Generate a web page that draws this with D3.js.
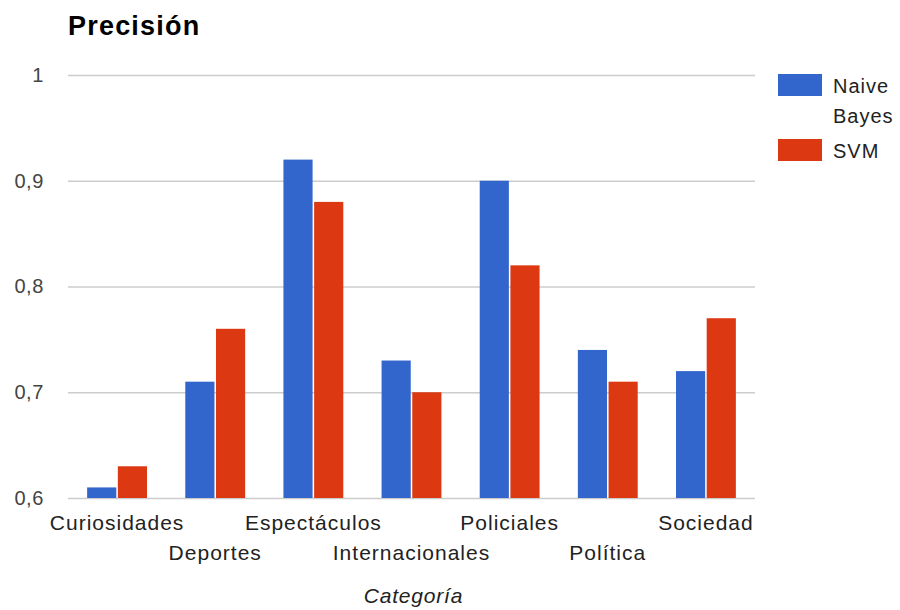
<!DOCTYPE html>
<html>
<head>
<meta charset="utf-8">
<script src="https://cdn.jsdelivr.net/npm/d3@7"></script>
<style>
  html, body { margin: 0; padding: 0; background: #fff; }
  svg { display: block; font-family: Arial, "Liberation Sans", sans-serif; }
</style>
</head>
<body>
<svg id="chart" width="900" height="610"></svg>
<script>
// Precision per news category for two classifiers
const categories = ["Curiosidades", "Deportes", "Espectáculos", "Internacionales", "Policiales", "Política", "Sociedad"];
const seriesNames = ["Naive Bayes", "SVM"];
const naiveBayes = [0.61, 0.71, 0.92, 0.73, 0.90, 0.74, 0.72];
const svm = [0.63, 0.76, 0.88, 0.70, 0.82, 0.71, 0.77];
const yTicks = [0.6, 0.7, 0.8, 0.9, 1.0];
const colors = ["#3366cc", "#dc3912"];

const values = [naiveBayes, svm];
const rows = categories.map((c, i) => ({ category: c, vals: seriesNames.map((s, k) => ({ series: s, k, value: values[k][i] })) }));

const svg = d3.select("#chart");
const plot = { left: 68, right: 755, top: 75, bottom: 498 };

const x0 = d3.scaleBand().domain(categories).range([plot.left, plot.right]).paddingInner(0.39).paddingOuter(0.195);
const x1 = d3.scaleBand().domain(seriesNames).range([0, x0.bandwidth()]).paddingInner(0.05);
const y = d3.scaleLinear().domain([0.6, 1.0]).range([plot.bottom, plot.top]);

const fmt = v => (v === 1 ? "1" : d3.format(".1f")(v).replace(".", ","));

// Gridlines and tick labels
const yAxis = d3.axisLeft(y).tickValues(yTicks).tickSize(-(plot.right - plot.left)).tickFormat(fmt).tickPadding(24);
const gy = svg.append("g").attr("transform", `translate(${plot.left},0)`).call(yAxis);
gy.select(".domain").remove();
gy.selectAll(".tick line").attr("stroke", "#cccccc").attr("stroke-width", 1.3);
gy.selectAll(".tick text").attr("fill", "#444").style("font-size", "20px").attr("letter-spacing", "0.6px");

// Bars
const groups = svg.append("g").selectAll("g").data(rows).join("g")
  .attr("transform", d => `translate(${x0(d.category)},0)`);
groups.selectAll("rect").data(d => d.vals).join("rect")
  .attr("x", d => x1(d.series))
  .attr("width", x1.bandwidth())
  .attr("y", d => y(d.value))
  .attr("height", d => y(0.6) - y(d.value))
  .attr("fill", d => colors[d.k]);

// Category labels, alternating on two rows
const xAxis = d3.axisBottom(x0).tickSize(0).tickPadding(0);
const gx = svg.append("g").attr("transform", `translate(0,${plot.bottom})`).call(xAxis);
gx.select(".domain").remove();
gx.selectAll(".tick text")
  .attr("fill", "#222")
  .style("font-size", "21px")
  .attr("letter-spacing", "1px")
  .attr("dy", null)
  .attr("y", (d, i) => (i % 2 === 0 ? 32 : 62));

// Axis title
svg.append("text")
  .attr("x", (plot.left + plot.right) / 2 + 2)
  .attr("y", 603)
  .attr("text-anchor", "middle")
  .attr("fill", "#222")
  .style("font-size", "21px")
  .style("font-style", "italic")
  .attr("letter-spacing", "0.8px")
  .text("Categoría");

// Chart title
svg.append("text")
  .attr("x", 68)
  .attr("y", 35)
  .attr("fill", "#000")
  .style("font-size", "27px")
  .style("font-weight", "bold")
  .attr("letter-spacing", "1.2px")
  .text("Precisión");

// Legend
const legendLines = [["Naive", "Bayes"], ["SVM"]];
const legendY = [74, 139];
const legend = svg.append("g");
seriesNames.forEach((s, k) => {
  legend.append("rect")
    .attr("x", 778).attr("y", legendY[k])
    .attr("width", 44).attr("height", 22)
    .attr("fill", colors[k]);
  const t = legend.append("text")
    .attr("x", 833).attr("y", legendY[k] + 19)
    .attr("fill", "#222")
    .style("font-size", "20px")
    .attr("letter-spacing", "1px");
  legendLines[k].forEach((line, j) => {
    t.append("tspan").attr("x", 833).attr("dy", j === 0 ? 0 : 30).text(line);
  });
});
</script>
</body>
</html>
